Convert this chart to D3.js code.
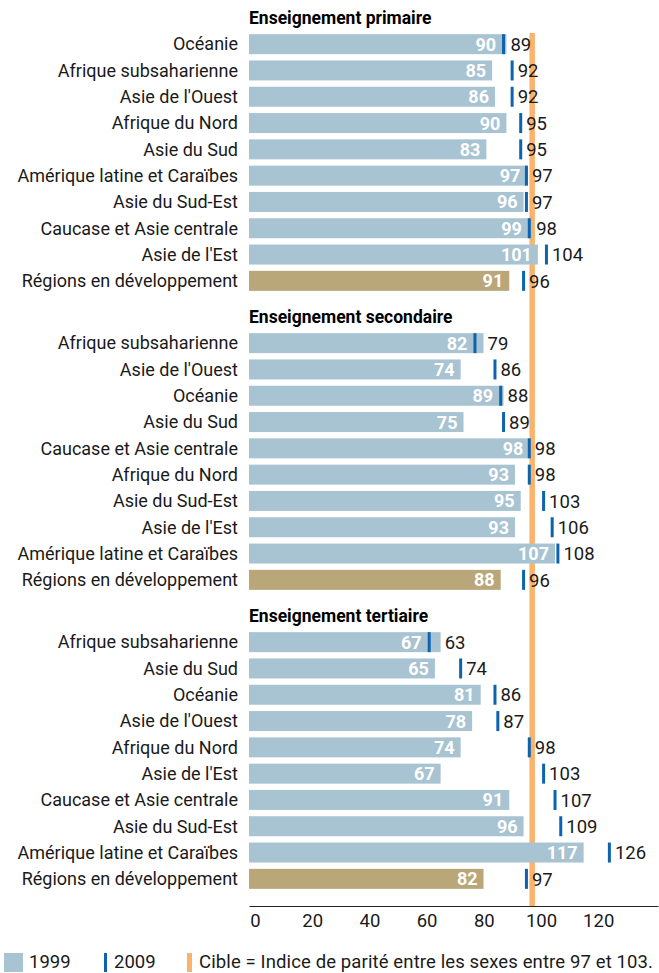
<!DOCTYPE html>
<html>
<head>
<meta charset="utf-8">
<script src="https://cdn.jsdelivr.net/npm/d3@7"></script>
<style>
  body { margin: 0; background: #fff; }
  svg { display: block; font-family: Roboto, "Liberation Sans", sans-serif; }
</style>
</head>
<body>
<div id="chart"></div>
<script>
// data (indice de parité entre les sexes)
var groupTitles = ["Enseignement primaire", "Enseignement secondaire", "Enseignement tertiaire"];

var primCats = ["Océanie", "Afrique subsaharienne", "Asie de l'Ouest", "Afrique du Nord", "Asie du Sud",
  "Amérique latine et Caraïbes", "Asie du Sud-Est", "Caucase et Asie centrale", "Asie de l'Est", "Régions en développement"];
var prim1999 = [90, 85, 86, 90, 83, 97, 96, 99, 101, 91];
var prim2009 = [89, 92, 92, 95, 95, 97, 97, 98, 104, 96];

var secCats = ["Afrique subsaharienne", "Asie de l'Ouest", "Océanie", "Asie du Sud", "Caucase et Asie centrale",
  "Afrique du Nord", "Asie du Sud-Est", "Asie de l'Est", "Amérique latine et Caraïbes", "Régions en développement"];
var sec1999 = [82, 74, 89, 75, 98, 93, 95, 93, 107, 88];
var sec2009 = [79, 86, 88, 89, 98, 98, 103, 106, 108, 96];

var terCats = ["Afrique subsaharienne", "Asie du Sud", "Océanie", "Asie de l'Ouest", "Afrique du Nord",
  "Asie de l'Est", "Caucase et Asie centrale", "Asie du Sud-Est", "Amérique latine et Caraïbes", "Régions en développement"];
var ter1999 = [67, 65, 81, 78, 74, 67, 91, 96, 117, 82];
var ter2009 = [63, 74, 86, 87, 98, 103, 107, 109, 126, 97];

var xTicks = [0, 20, 40, 60, 80, 100, 120];
var target = 99;
var legendLabels = ["1999", "2009", "Cible = Indice de parité entre les sexes entre 97 et 103."];

var width = 659, height = 973;
var colBar = "#a8c3d2", colRegion = "#b9a679", colMark = "#0d63ad", colTarget = "#fbb36b", colText = "#1a1a1a";

var groups = [
  {title: groupTitles[0], cats: primCats, v1: prim1999, v2: prim2009},
  {title: groupTitles[1], cats: secCats, v1: sec1999, v2: sec2009},
  {title: groupTitles[2], cats: terCats, v1: ter1999, v2: ter2009}
];

var svg = d3.select("#chart").append("svg")
  .attr("width", width)
  .attr("height", height);

var x = d3.scaleLinear()
  .domain([0, 143])
  .range([249, 658]);

var yGroup = d3.scaleBand()
  .domain(groupTitles)
  .range([31, 928]);

var yRow = d3.scaleBand()
  .domain(d3.range(10))
  .range([0, 263])
  .paddingInner(0.24)
  .paddingOuter(0.12);

var axisY = 906;

// target line, drawn first so the bars sit above it
svg.append("line")
  .attr("x1", x(target)).attr("x2", x(target))
  .attr("y1", 33).attr("y2", axisY)
  .attr("stroke", colTarget)
  .attr("stroke-width", 5.5);

var g = svg.selectAll(".group")
  .data(groups)
  .enter().append("g")
  .attr("class", "group")
  .attr("transform", function(d) { return "translate(0," + yGroup(d.title) + ")"; });

g.append("text")
  .attr("x", x(0))
  .attr("y", yRow(0) - 10)
  .attr("font-size", 17.5)
  .attr("font-weight", "bold")
  .attr("fill", "#000")
  .text(function(d) { return d.title; });

var rows = g.selectAll(".row")
  .data(function(d) {
    return d.cats.map(function(c, i) {
      return {cat: c, v1: d.v1[i], v2: d.v2[i], i: i, last: i === d.cats.length - 1};
    });
  })
  .enter().append("g")
  .attr("class", "row")
  .attr("transform", function(d) { return "translate(0," + yRow(d.i) + ")"; });

var bh = yRow.bandwidth();

rows.append("text")
  .attr("x", 238)
  .attr("y", bh / 2)
  .attr("dy", "0.35em")
  .attr("text-anchor", "end")
  .attr("font-size", 18)
  .attr("fill", colText)
  .text(function(d) { return d.cat; });

rows.append("rect")
  .attr("x", x(0))
  .attr("width", function(d) { return x(d.v1) - x(0); })
  .attr("height", bh)
  .attr("fill", function(d) { return d.last ? colRegion : colBar; });

rows.append("rect")
  .attr("x", function(d) { return x(d.v2) - 1.5; })
  .attr("width", 3)
  .attr("height", bh)
  .attr("fill", colMark);

// 1999 value, white, inside the bar end (or before the marker)
rows.append("text")
  .attr("x", function(d) {
    var end = x(d.v1);
    if (d.v2 < d.v1 && x(d.v1) - x(d.v2) < 12) end = x(d.v2) - 1.5;
    return end - 6;
  })
  .attr("y", bh / 2)
  .attr("dy", "0.36em")
  .attr("text-anchor", "end")
  .attr("font-size", 18)
  .attr("font-weight", "bold")
  .attr("fill", "#fff")
  .text(function(d) { return d.v1; });

// 2009 value, after the marker
rows.append("text")
  .attr("x", function(d) { return Math.max(x(d.v1), x(d.v2) + 1.5) + 4; })
  .attr("y", bh / 2)
  .attr("dy", "0.36em")
  .attr("font-size", 18.5)
  .attr("fill", colText)
  .text(function(d) { return d.v2; });

// x axis
var xAxis = d3.axisBottom(x)
  .tickValues(xTicks)
  .tickSize(0)
  .tickPadding(8);

var ax = svg.append("g")
  .attr("transform", "translate(0," + axisY + ")")
  .call(xAxis);
ax.select(".domain").attr("stroke", "#222").attr("stroke-width", 1.2);
ax.selectAll("text")
  .attr("font-size", 18.5)
  .attr("font-family", "Roboto, sans-serif")
  .attr("fill", colText)
  .attr("dx", 6);

// legend
var leg = svg.append("g").attr("transform", "translate(0,953)");
leg.append("rect").attr("x", 4).attr("width", 19).attr("height", 19).attr("fill", colBar);
leg.append("text").attr("x", 29).attr("y", 15).attr("font-size", 18.5).attr("fill", colText).text(legendLabels[0]);
leg.append("rect").attr("x", 104).attr("width", 3).attr("height", 19).attr("fill", colMark);
leg.append("text").attr("x", 114).attr("y", 15).attr("font-size", 18.5).attr("fill", colText).text(legendLabels[1]);
leg.append("rect").attr("x", 187).attr("width", 5).attr("height", 19).attr("fill", colTarget);
leg.append("text").attr("x", 199).attr("y", 15).attr("font-size", 18.5).attr("fill", colText)
  .attr("textLength", 454).attr("lengthAdjust", "spacing").text(legendLabels[2]);
</script>
</body>
</html>
